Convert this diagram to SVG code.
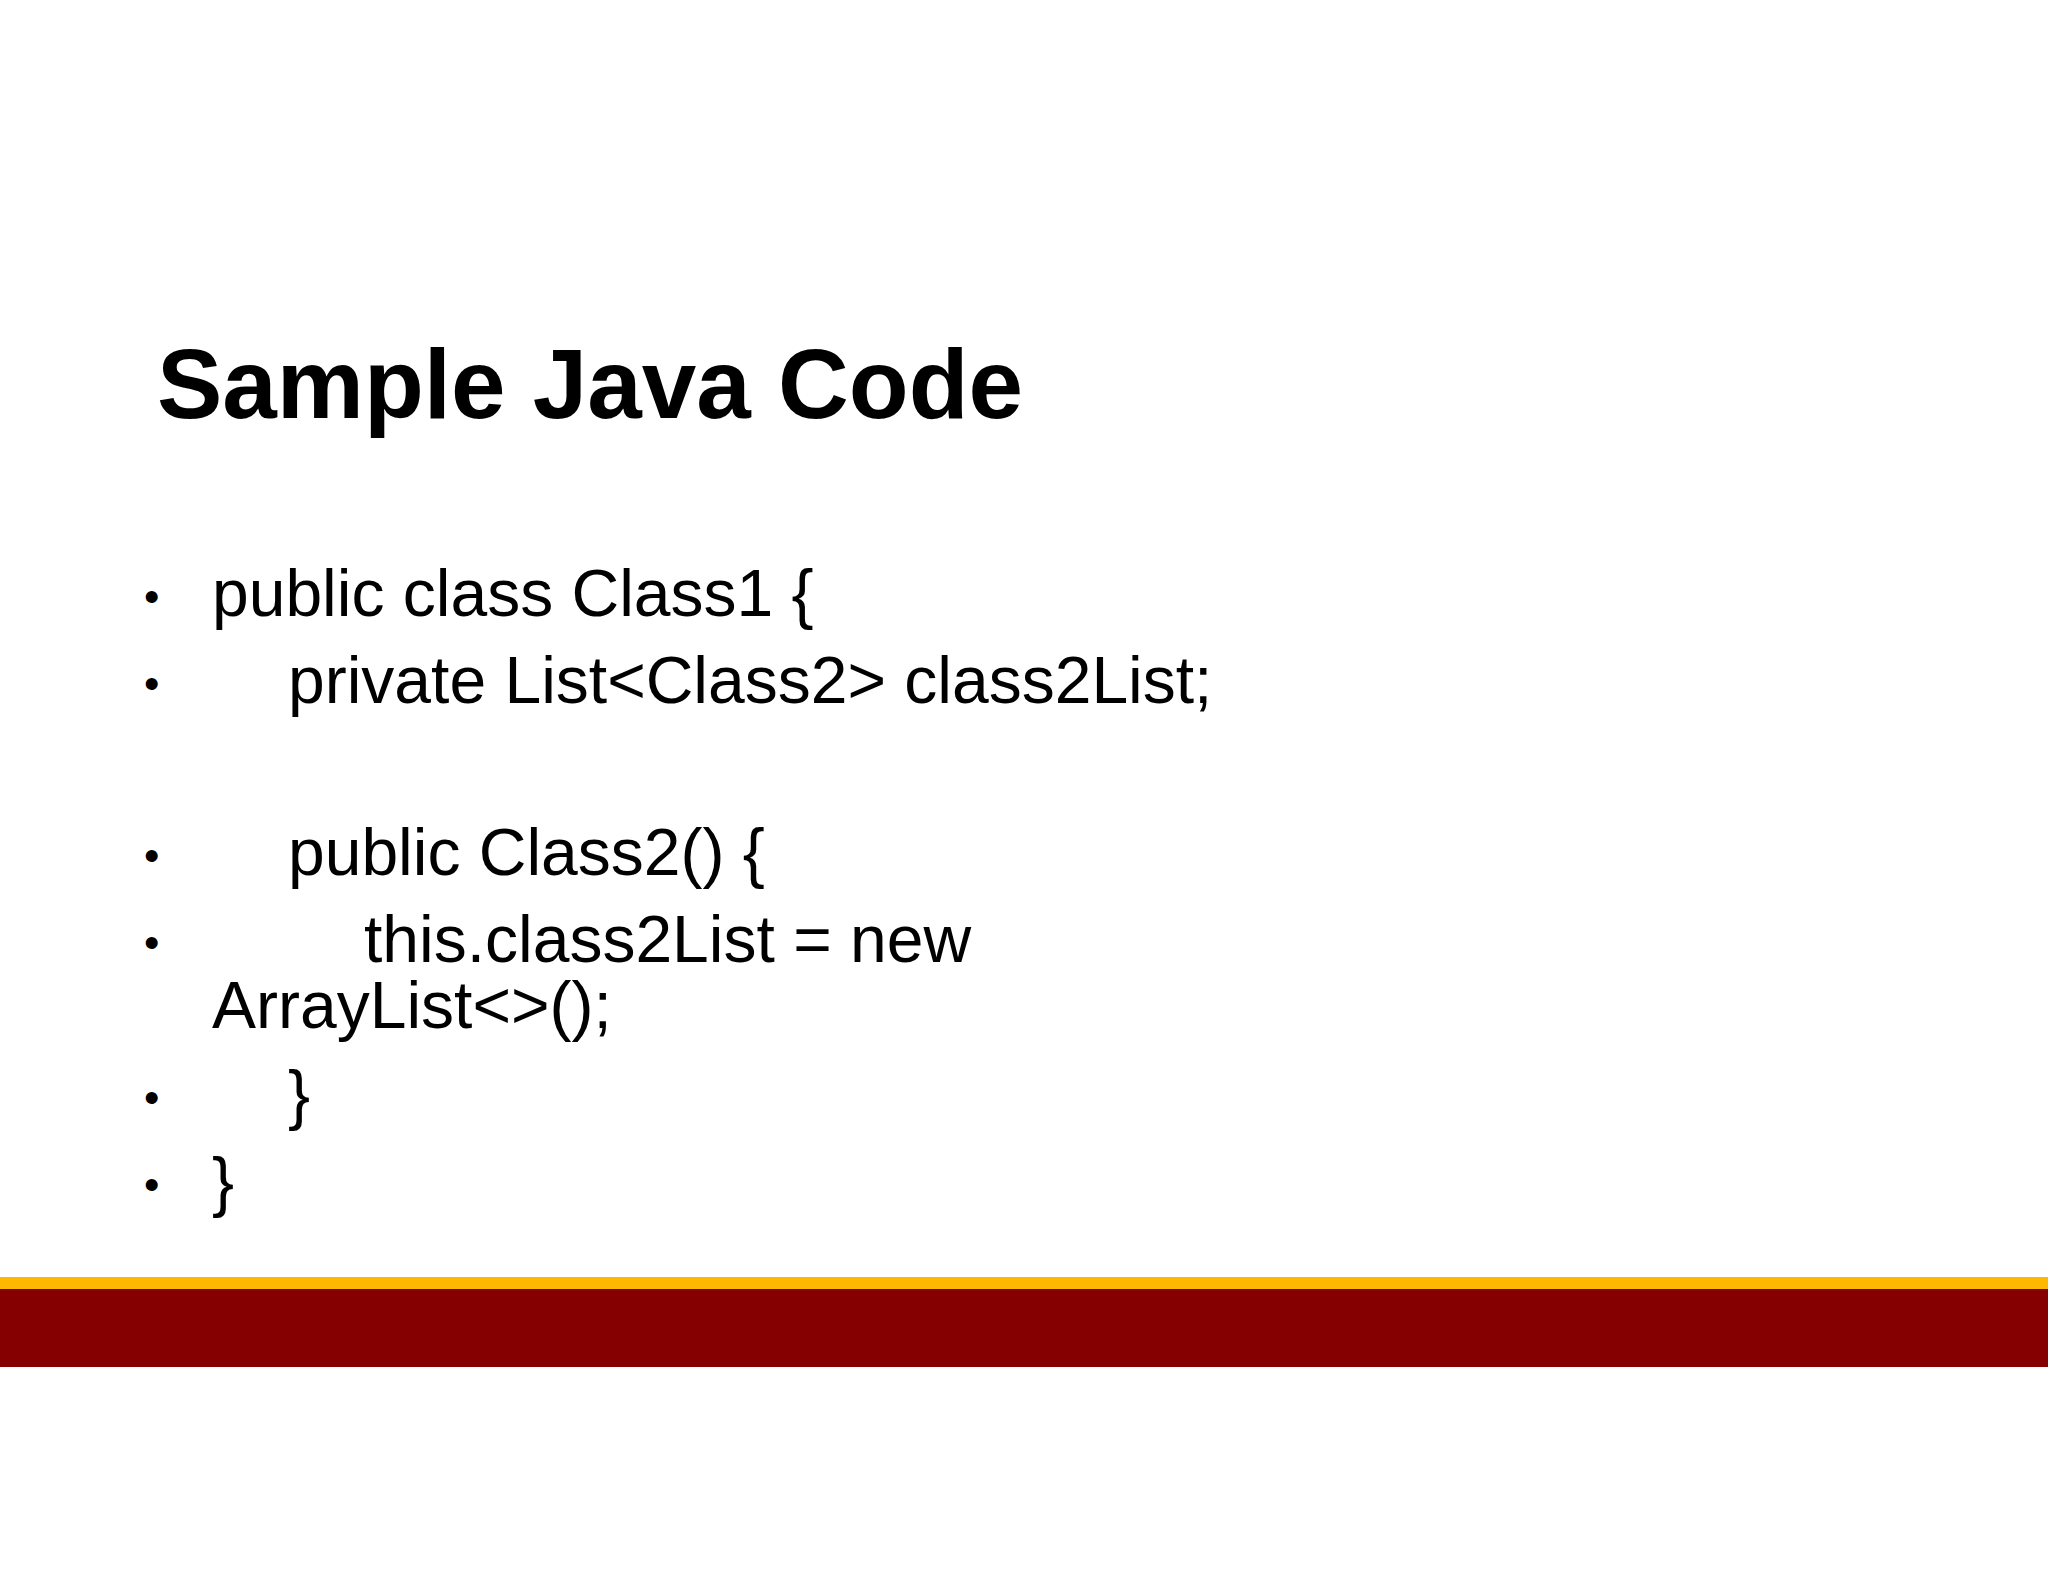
<svg xmlns="http://www.w3.org/2000/svg" width="2048" height="1582" viewBox="0 0 2048 1582">
<style>
.t{font-family:"Liberation Sans",Arial,sans-serif;fill:#000}
.b{font-size:66px}
.bul{font-size:44px}
</style>
<rect width="2048" height="1582" fill="#fff"/>
<g id="title"><text class="t" x="157" y="418" font-size="98" font-weight="bold">Sample Java Code</text></g>
<g id="body">
<text class="t bul" x="144" y="612">•</text><text class="t b" x="212" y="616">public class Class1 {</text>
<text class="t bul" x="144" y="699">•</text><text class="t b" x="288" y="703">private List&lt;Class2&gt; class2List;</text>
<text class="t bul" x="144" y="871">•</text><text class="t b" x="288" y="875">public Class2() {</text>
<text class="t bul" x="144" y="958">•</text><text class="t b" x="364" y="962">this.class2List = new</text>
<text class="t b" x="212" y="1028">ArrayList&lt;&gt;();</text>
<text class="t bul" x="144" y="1113">•</text><text class="t b" x="288" y="1117">}</text>
<text class="t bul" x="144" y="1200">•</text><text class="t b" x="212" y="1204">}</text>
</g>
<g id="bars">
<rect x="0" y="1277" width="2048" height="12" fill="#FFB800"/>
<rect x="0" y="1289" width="2048" height="78" fill="#850000"/>
</g>
</svg>
